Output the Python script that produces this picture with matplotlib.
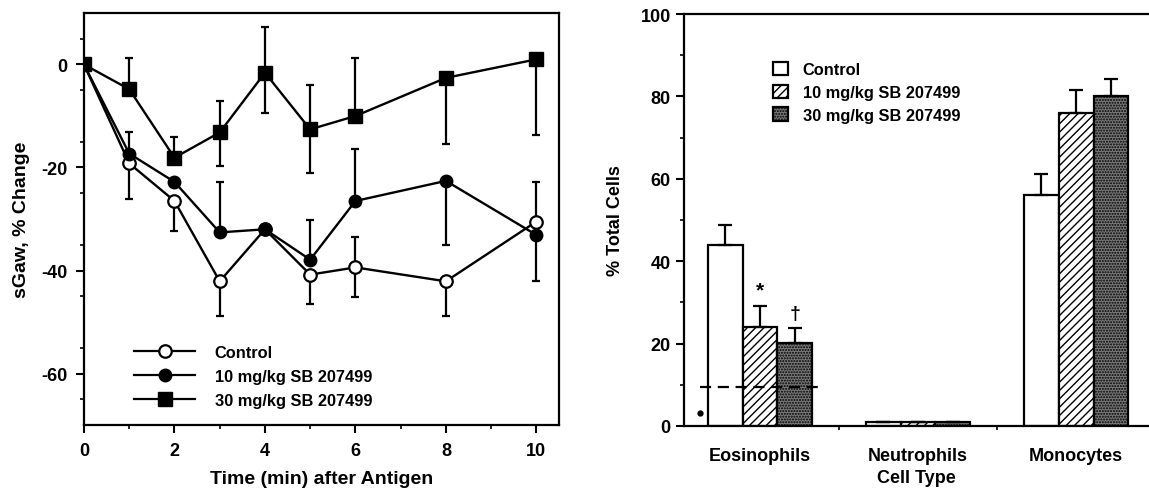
import numpy as np
import matplotlib.pyplot as plt
from matplotlib.lines import Line2D
from matplotlib.patches import Patch

plt.rcParams['font.family'] = ['Liberation Sans', 'DejaVu Sans']
plt.rcParams['font.weight'] = 'bold'
plt.rcParams['axes.unicode_minus'] = False
plt.rcParams['hatch.linewidth'] = 1.0

# ---- left panel data: sGaw % change vs time ----
time = [0, 1, 2, 3, 4, 5, 6, 8, 10]
ctrl = [0, -19.2, -26.5, -42.1, -32.0, -40.8, -39.4, -42.1, -30.5]
ctrl_lo = [0, 7.0, 5.8, 6.8, 0, 5.7, 5.8, 6.8, 0]
ctrl_hi = [0, 0, 0, 0, 0, 0, 5.9, 0, 7.7]
mg10 = [0, -17.3, -22.8, -32.6, -32.0, -37.9, -26.5, -22.6, -33.1]
mg10_lo = [0, 0, 0, 0, 0, 0, 0, 12.4, 8.9]
mg10_hi = [0, 4.2, 0, 9.8, 0, 7.7, 10.0, 0, 0]
mg30 = [0, -4.8, -18.1, -13.2, -1.6, -12.6, -10.0, -2.6, 1.0]
mg30_lo = [0, 0, 0, 6.5, 7.8, 8.4, 0, 12.9, 14.6]
mg30_hi = [0, 6.0, 4.0, 6.1, 8.8, 8.7, 11.2, 0, 0]

# ---- right panel data: % total cells ----
cell_types = ['Eosinophils', 'Neutrophils', 'Monocytes']
groups = ['Control', '10 mg/kg SB 207499', '30 mg/kg SB 207499']
pct_ctrl = [43.9, 1.0, 56.0]
pct_10 = [24.0, 1.0, 75.9]
pct_30 = [20.1, 1.0, 80.0]
err_ctrl = [4.9, 0, 5.1]
err_10 = [5.2, 0, 5.6]
err_30 = [3.7, 0, 4.3]
baseline_eos = 9.5
baseline_dot = 3.2

fig = plt.figure(figsize=(11.49, 4.89), dpi=100)

# ===== left panel =====
ax1 = fig.add_axes([0.0731, 0.1288, 0.4134, 0.8426])
ekw = dict(color='black', lw=1.7, capsize=2.8, capthick=1.6, elinewidth=1.6)
ax1.errorbar(time, ctrl, yerr=[ctrl_lo, ctrl_hi], marker='o', ms=9, mfc='white',
             mec='black', mew=1.6, zorder=3, **ekw)
ax1.errorbar(time, mg10, yerr=[mg10_lo, mg10_hi], marker='o', ms=9, mfc='black',
             mec='black', zorder=4, **ekw)
ax1.errorbar(time, mg30, yerr=[mg30_lo, mg30_hi], marker='s', ms=10, mfc='black',
             mec='black', zorder=5, **ekw)
ax1.set_xlim(0, 10.5)
ax1.set_ylim(-70, 10)
ax1.set_xticks([0, 2, 4, 6, 8, 10])
ax1.set_xticks([1, 3, 5, 7, 9], minor=True)
ax1.set_yticks([0, -20, -40, -60])
ax1.set_yticks([5, -5, -15, -25, -35, -45, -55, -65], minor=True)
ax1.tick_params(which='major', direction='out', length=6, width=1.5, labelsize=13, pad=6)
ax1.tick_params(which='minor', direction='out', length=3, width=1.2)
for s in ax1.spines.values():
    s.set_linewidth(1.6)
ax1.set_xlabel('Time (min) after Antigen', fontsize=14, fontweight='bold', labelpad=8)
ax1.set_ylabel('sGaw, % Change', fontsize=14, fontweight='bold', labelpad=8)

h = [Line2D([], [], color='black', lw=1.6, marker='o', ms=9, mfc='white', mec='black', mew=1.6),
     Line2D([], [], color='black', lw=1.6, marker='o', ms=9, mfc='black'),
     Line2D([], [], color='black', lw=1.6, marker='s', ms=10, mfc='black')]
ax1.legend(h, ['Control', '10 mg/kg SB 207499', '30 mg/kg SB 207499'], loc='lower left',
           bbox_to_anchor=(0.075, 0.005), frameon=False, handlelength=3.7,
           handletextpad=1.2, labelspacing=0.55, prop={'weight': 'bold', 'size': 11.8})

# ===== right panel =====
ax2 = fig.add_axes([0.5953, 0.1268, 0.4047, 0.8425])
x = np.arange(len(cell_types))
w = 0.22
bkw = dict(width=w, edgecolor='black', linewidth=1.6, zorder=2)
ax2.bar(x - w, pct_ctrl, color='white', **bkw)
ax2.bar(x, pct_10, color='white', hatch='////', **bkw)
ax2.bar(x + w, pct_30, color='#7a7a7a', hatch='......', **bkw)
for off, v, e in [(-w, pct_ctrl, err_ctrl), (0, pct_10, err_10), (w, pct_30, err_30)]:
    ax2.errorbar(x + off, v, yerr=[np.zeros(3), e], fmt='none', ecolor='black',
                 elinewidth=1.6, capsize=5, capthick=1.6, zorder=3)
ax2.plot([x[0] - 0.38, x[0] + 0.4], [baseline_eos, baseline_eos], color='black',
         lw=1.6, ls=(0, (5, 3)), zorder=4)
ax2.plot([x[0] - 0.38], [baseline_dot], 'o', color='black', ms=3.5)
ax2.text(x[0], pct_10[0] + err_10[0] + 1.5, '*', ha='center', va='bottom', fontsize=15, fontweight='bold')
ax2.text(x[0] + w, pct_30[0] + err_30[0] + 1.5, '\u2020', ha='center', va='bottom', fontsize=14,
         fontweight='bold')
ax2.set_xlim(-0.48, 2.46)
ax2.set_ylim(0, 100)
ax2.set_xticks(x)
ax2.set_xticklabels(cell_types)
ax2.set_xticks([0.5, 1.5], minor=True)
ax2.set_yticks([0, 20, 40, 60, 80, 100])
ax2.set_yticks([10, 30, 50, 70, 90], minor=True)
ax2.tick_params(axis='x', which='major', length=0, labelsize=13, pad=15)
ax2.tick_params(axis='x', which='minor', direction='out', length=3, width=1.2)
ax2.tick_params(axis='y', which='major', direction='out', length=6, width=1.5, labelsize=13)
ax2.tick_params(axis='y', which='minor', direction='out', length=3, width=1.2)
for s in ax2.spines.values():
    s.set_linewidth(1.6)
ax2.spines['right'].set_visible(False)
ax2.set_xlabel('Cell Type', fontsize=13, fontweight='bold', labelpad=4)
ax2.set_ylabel('% Total Cells', fontsize=13, fontweight='bold', labelpad=12)

ph = [Patch(facecolor='white', edgecolor='black', linewidth=1.6),
      Patch(facecolor='white', edgecolor='black', linewidth=1.6, hatch='////'),
      Patch(facecolor='#7a7a7a', edgecolor='black', linewidth=1.6, hatch='......')]
ax2.legend(ph, groups, loc='upper left', bbox_to_anchor=(0.16, 0.92), frameon=False,
           handlelength=0.9, handleheight=0.9, handletextpad=0.9, labelspacing=0.45,
           prop={'weight': 'bold', 'size': 11.8})

fig.savefig('out.png', dpi=100)
